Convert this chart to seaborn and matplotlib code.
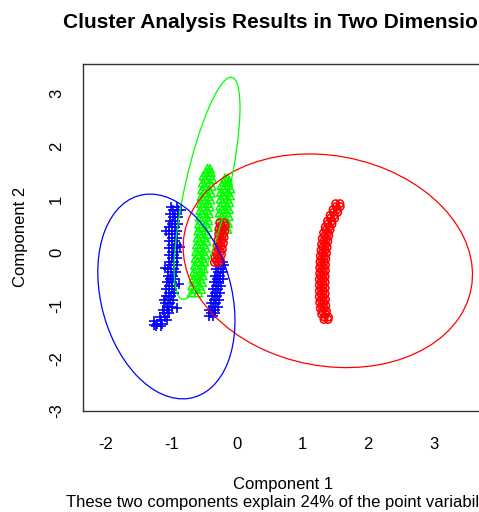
"""Two-component cluster plot (clusplot style) redrawn with seaborn."""
import matplotlib
matplotlib.use("Agg")
import matplotlib.pyplot as plt
from matplotlib.patches import Ellipse
import pandas as pd
import seaborn as sns

# cluster 1 (red circles): long arc on the right plus a short strand near x=-0.25
RED_X = [1.505, 1.57, 1.51, 1.575, 1.465, 1.53, 1.47, 1.535, 1.42, 1.485,
         1.425, 1.49, 1.38, 1.445, 1.385, 1.45, 1.345, 1.41, 1.355, 1.42,
         1.32, 1.385, 1.335, 1.40, 1.30, 1.365, 1.32, 1.385, 1.29, 1.355,
         1.31, 1.375, 1.28, 1.345, 1.30, 1.365, 1.27, 1.335, 1.29, 1.355,
         1.265, 1.33, 1.285, 1.35, 1.26, 1.325, 1.285, 1.35, 1.26, 1.325,
         1.28, 1.345, 1.255, 1.32, 1.28, 1.345, 1.255, 1.32, 1.28, 1.345,
         1.255, 1.32, 1.28, 1.345, 1.255, 1.32, 1.285, 1.35, 1.26, 1.325,
         1.29, 1.355, 1.27, 1.335, 1.30, 1.365, 1.29, 1.355, 1.33, 1.395,
         1.325, 1.39,
         -0.26, -0.195, -0.24, -0.175, -0.27, -0.205, -0.25, -0.185, -0.28, -0.215,
         -0.26, -0.195, -0.29, -0.225, -0.27, -0.205, -0.305, -0.24, -0.285, -0.22,
         -0.315, -0.25, -0.30, -0.235, -0.335, -0.27, -0.315, -0.25, -0.345, -0.28]
RED_Y = [0.92, 0.92, 0.865, 0.865, 0.81, 0.81, 0.755, 0.755, 0.70, 0.70,
         0.645, 0.645, 0.59, 0.59, 0.535, 0.535, 0.48, 0.48, 0.425, 0.425,
         0.37, 0.37, 0.315, 0.315, 0.26, 0.26, 0.205, 0.205, 0.15, 0.15,
         0.095, 0.095, 0.04, 0.04, -0.015, -0.015, -0.07, -0.07, -0.125, -0.125,
         -0.18, -0.18, -0.235, -0.235, -0.29, -0.29, -0.345, -0.345, -0.40, -0.40,
         -0.455, -0.455, -0.51, -0.51, -0.565, -0.565, -0.62, -0.62, -0.675, -0.675,
         -0.73, -0.73, -0.785, -0.785, -0.84, -0.84, -0.895, -0.895, -0.95, -0.95,
         -1.005, -1.005, -1.06, -1.06, -1.115, -1.115, -1.17, -1.17, -1.225, -1.225,
         -1.27, -1.27,
         0.56, 0.56, 0.505, 0.505, 0.45, 0.45, 0.395, 0.395, 0.34, 0.34,
         0.285, 0.285, 0.23, 0.23, 0.175, 0.175, 0.12, 0.12, 0.065, 0.065,
         0.01, 0.01, -0.045, -0.045, -0.10, -0.10, -0.155, -0.155, -0.19, -0.19]

# cluster 2 (green triangles): two near-vertical strands
GREEN_X = [-0.45, -0.41, -0.47, -0.40, -0.51, -0.41, -0.475, -0.375, -0.52, -0.42,
           -0.485, -0.385, -0.53, -0.43, -0.495, -0.395, -0.54, -0.44, -0.505, -0.405,
           -0.55, -0.45, -0.515, -0.415, -0.56, -0.46, -0.525, -0.425, -0.57, -0.47,
           -0.535, -0.435, -0.58, -0.48, -0.545, -0.445, -0.59, -0.49, -0.555, -0.455,
           -0.60, -0.50, -0.565, -0.465, -0.61, -0.51, -0.575, -0.475, -0.62, -0.52,
           -0.585, -0.485, -0.63, -0.53, -0.595, -0.495, -0.64, -0.54, -0.61, -0.51,
           -0.655, -0.555, -0.62, -0.52, -0.665, -0.565, -0.63, -0.53, -0.68, -0.58,
           -0.645, -0.545, -0.69, -0.59,
           -0.18, -0.14, -0.20, -0.13, -0.235, -0.135, -0.20, -0.10, -0.245, -0.145,
           -0.205, -0.105, -0.25, -0.15, -0.215, -0.115, -0.255, -0.155, -0.22, -0.12,
           -0.265, -0.165, -0.225, -0.125, -0.27, -0.17, -0.235, -0.135, -0.28, -0.18,
           -0.245, -0.145]
GREEN_Y = [1.58, 1.58, 1.515, 1.515, 1.45, 1.45, 1.385, 1.385, 1.32, 1.32,
           1.255, 1.255, 1.19, 1.19, 1.125, 1.125, 1.06, 1.06, 0.995, 0.995,
           0.93, 0.93, 0.865, 0.865, 0.80, 0.80, 0.735, 0.735, 0.67, 0.67,
           0.605, 0.605, 0.54, 0.54, 0.475, 0.475, 0.41, 0.41, 0.345, 0.345,
           0.28, 0.28, 0.215, 0.215, 0.15, 0.15, 0.085, 0.085, 0.02, 0.02,
           -0.045, -0.045, -0.11, -0.11, -0.175, -0.175, -0.24, -0.24, -0.305, -0.305,
           -0.37, -0.37, -0.435, -0.435, -0.50, -0.50, -0.565, -0.565, -0.63, -0.63,
           -0.695, -0.695, -0.76, -0.76,
           1.40, 1.40, 1.335, 1.335, 1.27, 1.27, 1.205, 1.205, 1.14, 1.14,
           1.075, 1.075, 1.01, 1.01, 0.945, 0.945, 0.88, 0.88, 0.815, 0.815,
           0.75, 0.75, 0.685, 0.685, 0.62, 0.62, 0.555, 0.555, 0.49, 0.49,
           0.44, 0.44]

# cluster 3 (blue pluses): long strand at x~-1 and a short one at x~-0.3
BLUE_X = [-1.01, -0.92, -0.98, -0.90, -1.02, -0.94, -0.98, -0.90, -1.025, -0.945,
          -0.985, -0.905, -1.03, -0.95, -0.99, -0.91, -1.03, -0.95, -0.99, -0.91,
          -1.03, -0.95, -0.99, -0.91, -1.035, -0.955, -0.995, -0.915, -1.035, -0.955,
          -0.995, -0.915, -1.035, -0.955, -1.00, -0.92, -1.045, -0.965, -1.01, -0.93,
          -1.055, -0.975, -1.02, -0.94, -1.065, -0.985, -1.03, -0.95, -1.075, -0.995,
          -1.04, -0.96, -1.08, -1.00, -1.05, -0.97, -1.10, -1.02, -1.07, -0.99,
          -1.13, -1.05, -1.11, -1.03, -1.17, -1.09, -1.15, -1.07, -1.22, -1.14,
          -1.23, -1.15,
          -0.86, -1.08, -0.87, -1.09, -0.88, -1.11, -0.92, -1.27, -1.27,
          -0.29, -0.21, -0.275, -0.195, -0.32, -0.24, -0.29, -0.21, -0.335, -0.255,
          -0.30, -0.22, -0.35, -0.27, -0.32, -0.24, -0.37, -0.29, -0.34, -0.26,
          -0.385, -0.305, -0.35, -0.27, -0.40, -0.32, -0.37, -0.29, -0.42, -0.34,
          -0.39, -0.33, -0.42, -0.36]
BLUE_Y = [0.86, 0.86, 0.795, 0.795, 0.73, 0.73, 0.665, 0.665, 0.60, 0.60,
          0.535, 0.535, 0.47, 0.47, 0.405, 0.405, 0.34, 0.34, 0.275, 0.275,
          0.21, 0.21, 0.145, 0.145, 0.08, 0.08, 0.015, 0.015, -0.05, -0.05,
          -0.115, -0.115, -0.18, -0.18, -0.245, -0.245, -0.31, -0.31, -0.375, -0.375,
          -0.44, -0.44, -0.505, -0.505, -0.57, -0.57, -0.635, -0.635, -0.70, -0.70,
          -0.765, -0.765, -0.83, -0.83, -0.895, -0.895, -0.96, -0.96, -1.025, -1.025,
          -1.09, -1.09, -1.155, -1.155, -1.22, -1.22, -1.285, -1.285, -1.35, -1.35,
          -1.40, -1.40,
          0.80, 0.40, 0.10, -0.30, -0.60, -0.90, -1.05, -1.30, -1.38,
          -0.18, -0.18, -0.245, -0.245, -0.31, -0.31, -0.375, -0.375, -0.44, -0.44,
          -0.505, -0.505, -0.57, -0.57, -0.635, -0.635, -0.70, -0.70, -0.765, -0.765,
          -0.83, -0.83, -0.895, -0.895, -0.96, -0.96, -1.025, -1.025, -1.09, -1.09,
          -1.155, -1.155, -1.21, -1.21]

# cluster ellipses: centre, semi-axes, rotation (degrees) in data units
ELL_CX = [1.385, -0.455, -1.075]
ELL_CY = [-0.16, 1.21, -0.835]
ELL_A = [2.272, 2.132, 1.957]
ELL_B = [1.944, 0.34, 1.004]
ELL_ANGLE = [-27.8, 79.9, -80.05]

COLORS = ["#ff0000", "#00ff00", "#0000ff"]
X_TICKS = [-2, -1, 0, 1, 2, 3]
Y_TICKS = [-3, -2, -1, 0, 1, 2, 3]

TITLE = "Cluster Analysis Results in Two Dimensions"
SUBTITLE = "These two components explain 24% of the point variability."


def main() -> None:
    sns.set_theme(style="white")
    plt.rcParams["font.family"] = ["Liberation Sans", "DejaVu Sans"]
    plt.rcParams["axes.unicode_minus"] = False

    pts = pd.concat([
        pd.DataFrame({"x": RED_X, "y": RED_Y, "cluster": 1}),
        pd.DataFrame({"x": GREEN_X, "y": GREEN_Y, "cluster": 2}),
        pd.DataFrame({"x": BLUE_X, "y": BLUE_Y, "cluster": 3}),
    ], ignore_index=True)

    fig = plt.figure(figsize=(4.79, 5.12), dpi=100)
    ax = fig.add_axes([83 / 479, 101 / 512, 400 / 479, 347 / 512])

    # draw green, blue, then red so red sits on top like the original
    sns.scatterplot(data=pts[pts.cluster == 2], x="x", y="y", marker="^", s=36,
                    facecolor="none", edgecolor=COLORS[1], linewidth=1.1, ax=ax)
    sns.scatterplot(data=pts[pts.cluster == 3], x="x", y="y", marker="+", s=48,
                    color=COLORS[2], linewidth=1.2, ax=ax)
    sns.scatterplot(data=pts[pts.cluster == 1], x="x", y="y", marker="o", s=28,
                    facecolor="none", edgecolor=COLORS[0], linewidth=1.1, ax=ax)

    for i, col in enumerate(COLORS):
        ax.add_patch(Ellipse((ELL_CX[i], ELL_CY[i]), 2 * ELL_A[i], 2 * ELL_B[i],
                             angle=ELL_ANGLE[i], fill=False, edgecolor=col, lw=0.9))

    ax.set_xlim(-2.346, 3.75)
    ax.set_ylim(-2.987, 3.56)
    ax.set_xticks(X_TICKS)
    ax.set_xticklabels([str(t) for t in X_TICKS])
    ax.set_yticks(Y_TICKS)
    ax.set_yticklabels([str(t) for t in Y_TICKS], rotation=90, va="center")
    ax.set_xlabel("")
    ax.set_ylabel("")
    for sp in ax.spines.values():
        sp.set_color("#333333")
        sp.set_linewidth(1.0)
    ax.tick_params(axis="both", length=7.5, width=0.8, color="#333333",
                   labelsize=12, labelcolor="black")
    ax.tick_params(axis="x", pad=11)
    ax.tick_params(axis="y", pad=6)

    fig.text(283 / 479, 1 - 28 / 512, TITLE, ha="center", va="baseline",
             fontsize=15, fontweight="bold", color="black")
    fig.text(283 / 479, 1 - 489 / 512, "Component 1", ha="center", va="baseline",
             fontsize=12, color="black")
    fig.text(283 / 479, 1 - 507 / 512, SUBTITLE, ha="center", va="baseline",
             fontsize=12, color="black")
    fig.text(25 / 479, 1 - 237 / 512, "Component 2", rotation=90,
             rotation_mode="anchor", ha="center", va="baseline",
             fontsize=12, color="black")

    fig.savefig("out.png", dpi=100)
    plt.close(fig)


if __name__ == "__main__":
    main()
